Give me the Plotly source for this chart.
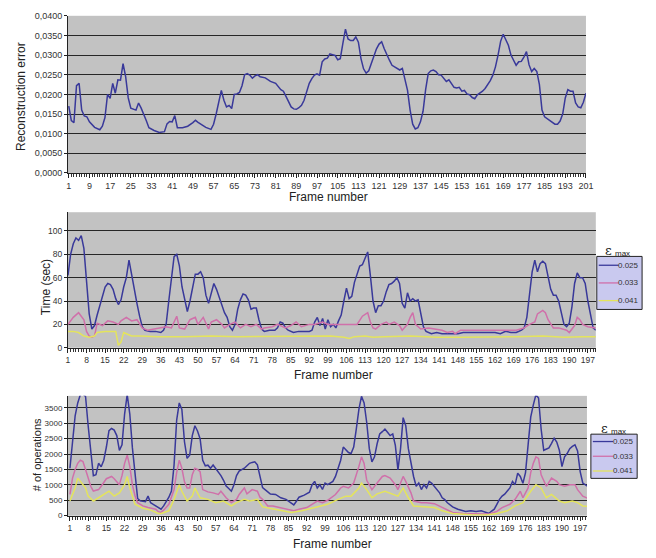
import plotly.graph_objects as go

# ---------------- DATA ----------------
# Panel 1: reconstruction error per frame
rec_frames = [1,2,3,4,5,6,7,8,9,10,11,13,14,15,16,17,18,19,20,21,22,23,24,25,27,28,29,31,32,34,36,38,39,40,41,42,43,45,47,49,50,51,52,54,56,57,58,59,60,61,62,63,64,65,66,67,68,69,70,71,72,73,74,75,77,79,81,83,84,85,86,87,88,89,90,91,92,93,94,95,96,97,98,99,100,101,102,103,104,105,106,107,108,109,110,111,112,113,114,115,116,117,118,119,120,121,122,123,124,125,126,127,128,129,130,131,132,133,134,135,136,137,138,139,140,141,142,143,144,145,146,147,148,149,150,151,152,153,154,155,156,157,158,159,160,161,162,163,164,165,166,167,168,169,170,171,172,173,174,175,176,177,178,179,180,181,182,183,184,185,186,187,188,189,190,191,192,193,194,195,196,197,198,199,200,201]
rec_error = [.0170,.0133,.0128,.0222,.0228,.0160,.0145,.0143,.0130,.0124,.0116,.0110,.0119,.0141,.0200,.0190,.0228,.0203,.0237,.0236,.0278,.0245,.0191,.0165,.0160,.0178,.0165,.0133,.0115,.0108,.0103,.0105,.0125,.0131,.0130,.0146,.0115,.0115,.0119,.0128,.0134,.0129,.0125,.0116,.0111,.0124,.0150,.0185,.0210,.0185,.0168,.0172,.0164,.0200,.0201,.0205,.0222,.0250,.0253,.0249,.0241,.0247,.0250,.0245,.0242,.0233,.0228,.0212,.0208,.0195,.0180,.0168,.0163,.0162,.0166,.0172,.0185,.0205,.0228,.0240,.0249,.0252,.0249,.0283,.0290,.0292,.0303,.0301,.0299,.0288,.0291,.0330,.0366,.0341,.0337,.0337,.0346,.0333,.0291,.0265,.0254,.0260,.0278,.0300,.0316,.0328,.0334,.0316,.0300,.0287,.0274,.0270,.0266,.0262,.0266,.0241,.0210,.0160,.0124,.0112,.0115,.0130,.0157,.0212,.0253,.0260,.0262,.0258,.0250,.0249,.0240,.0233,.0237,.0226,.0218,.0216,.0218,.0208,.0210,.0201,.0199,.0192,.0189,.0199,.0203,.0208,.0215,.0225,.0235,.0249,.0270,.0300,.0335,.0353,.0337,.0325,.0300,.0285,.0274,.0283,.0284,.0295,.0309,.0275,.0258,.0266,.0258,.0225,.0160,.0143,.0138,.0135,.0130,.0124,.0124,.0132,.0150,.0191,.0212,.0208,.0208,.0178,.0168,.0166,.0180,.0203]
rec_xticks = [1,9,17,25,33,41,49,57,65,73,81,89,97,105,113,121,129,137,145,153,161,169,177,185,193,201]
rec_yticks = [0,0.005,0.01,0.015,0.02,0.025,0.03,0.035,0.04]
rec_ylabels = ["0,0000","0,0050","0,0100","0,0150","0,0200","0,0250","0,0300","0,0350","0,0400"]

eps_names = ["0.025","0.033","0.041"]

# Panel 2: time (sec)
t025_f = [1,2,3,4,5,6,7,8,9,10,11,12,13,14,15,16,17,18,19,20,21,22,23,24,25,26,27,28,29,30,32,34,36,37,38,39,40,41,42,43,44,45,46,47,48,49,50,51,52,53,54,55,56,57,58,59,60,61,62,63,64,65,66,67,68,69,70,71,72,73,74,75,77,79,80,81,82,83,84,86,88,90,92,93,94,95,96,97,98,99,100,101,102,103,104,105,106,107,108,109,110,111,112,113,114,115,116,117,118,119,120,121,122,123,124,125,126,127,128,129,130,131,132,133,134,135,136,138,140,142,144,146,148,150,153,156,159,162,164,166,168,170,172,173,174,175,176,177,178,179,180,181,182,183,184,185,186,187,188,189,190,191,192,193,194,195,196,197,198,199,200]
t025 = [62,80,89,94,92,96,85,57,29,16,19,28,36,45,52,55,54,50,42,37,41,52,60,75,62,48,38,27,18,15,14,14,13,15,20,40,62,78,80,70,52,40,31,40,52,63,63,65,60,45,38,46,55,50,43,37,30,26,18,15,20,33,41,46,45,41,33,34,34,24,16,14,15,15,17,22,21,17,15,13,14,14,14,15,22,26,19,25,16,24,18,20,17,23,28,40,51,42,44,56,64,70,71,76,82,62,40,30,36,36,40,48,54,55,57,60,55,38,34,47,40,42,40,41,28,18,14,12,13,12,12,12,12,13,13,13,13,13,12,14,13,13,15,17,26,45,65,75,65,72,74,72,62,50,45,45,40,30,20,18,21,35,55,64,60,60,55,40,28,17,15]
t033_f = [1,3,5,7,8,9,10,11,12,14,16,18,20,21,23,25,27,29,31,33,36,38,40,42,43,45,47,49,50,52,54,55,57,59,60,62,64,66,68,70,72,74,75,78,80,83,85,87,89,92,94,97,99,104,108,110,112,114,115,116,117,119,121,122,124,126,127,129,130,131,132,134,137,139,142,144,146,147,149,152,155,159,163,166,170,173,175,177,178,180,181,182,184,186,189,190,192,193,194,195,197,200]
t033 = [20,26,30,24,14,10,9,10,21,19,23,22,20,23,26,23,24,17,15,16,17,18,17,27,17,16,24,26,20,26,16,22,24,20,17,20,22,17,20,18,20,16,17,18,20,17,19,22,18,20,20,22,20,20,20,20,27,30,22,17,16,20,22,20,22,19,15,20,26,30,20,16,17,16,15,13,14,12,15,15,15,15,15,15,15,17,20,22,29,32,30,24,17,17,15,13,19,26,24,20,18,17]
t041_f = [1,3,5,7,9,11,12,15,19,20,21,22,23,25,28,35,45,55,65,75,85,95,100,105,107,109,113,116,120,130,140,150,160,170,180,188,195,200]
t041 = [14,14,13,10,9,10,13,14,14,2,5,13,12,10,10,9.5,9.5,10,9.5,9.5,9.5,9.5,10,9,8,9.5,10,9,9.5,10,9,9,9,9.5,10,9,9.5,9.5]
time_xticks = [1,8,15,22,29,36,43,50,57,64,71,78,85,92,99,106,113,120,127,134,141,148,155,162,169,176,183,190,197]
time_yticks = [0,20,40,60,80,100]

# Panel 3: # of operations
o025_f = [1,2,3,4,5,6,7,8,9,10,11,12,13,14,15,16,17,18,19,20,21,22,23,24,25,26,27,28,30,31,32,33,34,36,37,38,39,40,41,42,43,44,45,46,47,48,49,50,51,52,53,54,55,56,57,58,59,60,61,62,63,64,65,66,67,68,69,70,71,72,73,74,75,77,78,80,82,84,86,87,88,89,91,93,94,95,96,97,98,99,100,101,102,103,104,105,106,107,108,109,110,111,112,113,114,115,116,117,118,119,120,121,122,123,124,125,126,127,128,129,130,131,132,133,134,135,136,137,138,139,140,141,142,143,144,145,146,147,148,150,151,153,155,157,159,161,162,163,164,165,166,167,168,169,170,171,172,173,174,175,176,177,178,179,180,181,182,183,184,185,186,187,188,189,190,191,192,193,194,195,196,197,198,199,200]
o025 = [1540,2490,3240,3660,3930,3950,3870,2920,2070,1300,1330,1700,1590,1800,2230,2760,2830,2780,2600,2120,2300,3300,3930,3300,2200,1250,560,480,455,635,420,370,320,210,317,450,600,800,1640,3100,3660,3450,2400,1860,1960,2600,2920,2750,2500,1800,1620,1640,1540,1644,1530,1450,1300,1150,960,880,794,1000,1300,1450,1500,1540,1620,1700,1730,1750,1650,1300,910,773,700,690,582,529,423,349,470,600,667,760,1000,1113,900,1007,850,1060,1007,1060,1113,1273,1538,1800,2229,2123,2050,2017,2229,2813,3450,3874,3662,3025,2176,1750,1910,2335,2653,2728,2813,2706,2600,2653,2282,1485,2176,3184,2919,2176,1698,1273,954,1060,847,1007,900,1113,1050,950,847,741,582,520,420,349,285,211,180,138,158,138,158,106,74,150,211,370,529,635,700,800,900,1113,1007,1380,1273,1050,1400,2300,3200,3600,3927,3820,2813,2123,2150,2200,2350,2516,2388,2123,1592,1910,2017,2176,2250,2303,2100,1432,1060,1007,950]
o033_f = [1,2,3,4,5,6,7,8,9,10,12,13,15,17,18,20,21,22,23,24,25,26,27,29,31,34,35,36,37,39,41,42,43,44,45,46,47,48,49,50,51,52,54,56,58,59,61,63,65,66,68,69,71,73,74,75,77,79,82,84,87,89,92,94,96,98,100,103,105,106,108,110,111,112,113,114,115,117,119,121,122,124,126,127,129,130,132,133,136,138,141,143,146,148,152,156,160,162,165,167,170,172,174,175,177,178,179,180,181,182,184,186,188,189,191,193,195,196,198,200]
o033 = [688,1220,1500,1700,1804,1760,1500,1200,954,800,847,954,1200,1273,1200,1007,1300,1700,1964,1600,1000,650,423,317,264,211,130,106,180,370,850,1400,1804,1538,1100,900,900,1326,1538,1500,1432,847,773,741,688,794,582,423,529,688,900,709,847,794,600,529,317,317,264,211,158,211,264,370,476,423,500,688,900,954,900,1060,1300,1600,1910,1698,1150,847,1060,1273,1305,1220,1007,847,1273,1113,741,476,423,423,391,317,180,106,74,53,53,53,138,264,370,529,794,582,900,1400,1700,1910,1857,1326,954,1220,1113,1007,954,1007,1007,847,635,560]
o041_f = [1,3,4,5,7,8,10,12,14,16,18,20,22,23,24,26,29,32,35,36,39,41,43,44,46,48,49,51,54,57,60,63,65,68,70,73,75,79,82,86,90,94,97,100,104,107,109,112,113,115,117,119,122,125,127,129,131,133,137,141,144,148,155,161,165,169,172,175,178,180,182,184,186,189,191,194,196,198,200]
o041 = [476,900,1220,1113,900,635,476,582,688,794,635,741,1007,1273,900,370,243,180,74,74,158,529,1007,794,476,635,900,582,529,423,476,317,423,529,476,529,285,211,158,106,158,243,317,370,529,635,635,900,1060,847,582,709,794,709,635,900,582,317,285,264,158,74,32,21,74,158,317,423,794,1007,900,582,688,476,423,476,423,317,300]
ops_xticks = time_xticks
ops_yticks = [0,500,1000,1500,2000,2500,3000,3500]

# ---------------- STYLE ----------------
W, H = 656, 558
FONT = "Liberation Sans, Arial, sans-serif"
PLOT_BG = "#c2c2c2"
GRID = "#262626"
TICK_COL = "#333333"
COLORS = ["#39399a", "#d070aa", "#e4e45c"]


def px(x):
    return x / W


def py(y):
    return 1 - y / H


fig = go.Figure()

# Panel 1
fig.add_trace(go.Scatter(x=rec_frames, y=rec_error, mode="lines",
                         line=dict(color=COLORS[0], width=1.5),
                         xaxis="x", yaxis="y", showlegend=False))
# Panel 2
for f, v, c, n in zip([t025_f, t033_f, t041_f], [t025, t033, t041], COLORS, eps_names):
    fig.add_trace(go.Scatter(x=f, y=v, mode="lines", name=n,
                             line=dict(color=c, width=1.5),
                             xaxis="x2", yaxis="y2", showlegend=False))
# Panel 3
for f, v, c, n in zip([o025_f, o033_f, o041_f], [o025, o033, o041], COLORS, eps_names):
    fig.add_trace(go.Scatter(x=f, y=v, mode="lines", name=n,
                             line=dict(color=c, width=1.5),
                             xaxis="x3", yaxis="y3", showlegend=False))


def xaxis(dom, rng, tickvals, anchor, fs):
    return dict(domain=[px(dom[0]), px(dom[1])], range=rng, anchor=anchor,
                tickmode="array", tickvals=tickvals, ticks="outside", ticklen=4,
                tickcolor="#222", tickfont=dict(size=fs, color=TICK_COL, family=FONT),
                showgrid=False, zeroline=False, showline=True, linecolor="#222", linewidth=1,
                minor=dict(tickmode="linear", tick0=1, dtick=1, ticks="outside",
                           ticklen=3, tickcolor="#333", showgrid=False))


def yaxis(dom, rng, tickvals, anchor, fs=9, ticktext=None):
    d = dict(domain=[py(dom[1]), py(dom[0])], range=rng, anchor=anchor,
             tickmode="array", tickvals=tickvals, ticks="outside", ticklen=3,
             tickcolor="#222", tickfont=dict(size=fs, color=TICK_COL, family=FONT),
             showgrid=True, gridcolor=GRID, gridwidth=1.3, zeroline=False,
             showline=True, linecolor="#222", linewidth=1)
    if ticktext is not None:
        d["ticktext"] = ticktext
    return d


fig.update_layout(
    width=W, height=H, margin=dict(l=0, r=0, t=0, b=0),
    paper_bgcolor="white", plot_bgcolor=PLOT_BG,
    font=dict(family=FONT, color="#222"),
    xaxis=xaxis((67, 593), [0.7, 201], rec_xticks, "y", 9),
    yaxis=yaxis((11, 171), [0, 0.04], rec_yticks, "x", 9, rec_ylabels),
    xaxis2=xaxis((67, 603), [1, 200], time_xticks, "y2", 8.5),
    yaxis2=yaxis((211, 349), [0, 116], time_yticks, "x2", 8.5),
    xaxis3=xaxis((67, 594), [0.25, 199.6], ops_xticks, "y3", 8.5),
    yaxis3=yaxis((398, 520), [0, 3890], ops_yticks, "x3", 8),
)

annotations = []
shapes = []


def title(text, x, y, angle=0, size=12):
    annotations.append(dict(text=text, x=px(x), y=py(y), xref="paper", yref="paper",
                            showarrow=False, textangle=angle,
                            font=dict(size=size, color="#222", family=FONT),
                            xanchor="center", yanchor="middle"))


title("Reconstruction error", 20, 93, -90)
title("Frame number", 332, 196)
title("Time (sec)", 45, 287, -90)
title("Frame number", 337, 377)
title("# of operations", 35, 458, -90, 11)
title("Frame number", 336, 549)


def legend(box, title_pos):
    x0, y0, x1, y1 = box
    shapes.append(dict(type="rect", xref="paper", yref="paper",
                       x0=px(x0), x1=px(x1), y0=py(y1), y1=py(y0),
                       fillcolor="#c9c9ef", line=dict(color="#222", width=1)))
    tx, ty = title_pos
    annotations.append(dict(text="ε", x=px(tx - 8), y=py(ty), xref="paper", yref="paper",
                            showarrow=False, xanchor="center", yanchor="middle",
                            font=dict(size=13, color="#222", family="DejaVu Serif, serif")))
    annotations.append(dict(text="max", x=px(tx + 6), y=py(ty + 3), xref="paper", yref="paper",
                            showarrow=False, xanchor="center", yanchor="middle",
                            font=dict(size=8, color="#222", family=FONT)))
    n = len(eps_names)
    step = (y1 - y0) / n
    for i, (name, c) in enumerate(zip(eps_names, COLORS)):
        yc = y0 + step * (i + 0.5)
        lx1 = x0 + (x1 - x0) * 0.48
        shapes.append(dict(type="line", xref="paper", yref="paper",
                           x0=px(x0 + 2), x1=px(lx1), y0=py(yc), y1=py(yc),
                           line=dict(color=c, width=1.3)))
        annotations.append(dict(text=name, x=px(x1 - 1), y=py(yc), xref="paper", yref="paper",
                                showarrow=False, xanchor="right", yanchor="middle",
                                font=dict(size=8, color="#333", family=FONT)))


legend((604, 256, 650, 310), (624, 250))
legend((598, 437, 645, 482), (620, 431))

fig.update_layout(annotations=annotations, shapes=shapes)
fig.write_html("out.html", config={"displayModeBar": False},
               post_script="document.body.style.margin='0';document.body.style.overflow='hidden';")
